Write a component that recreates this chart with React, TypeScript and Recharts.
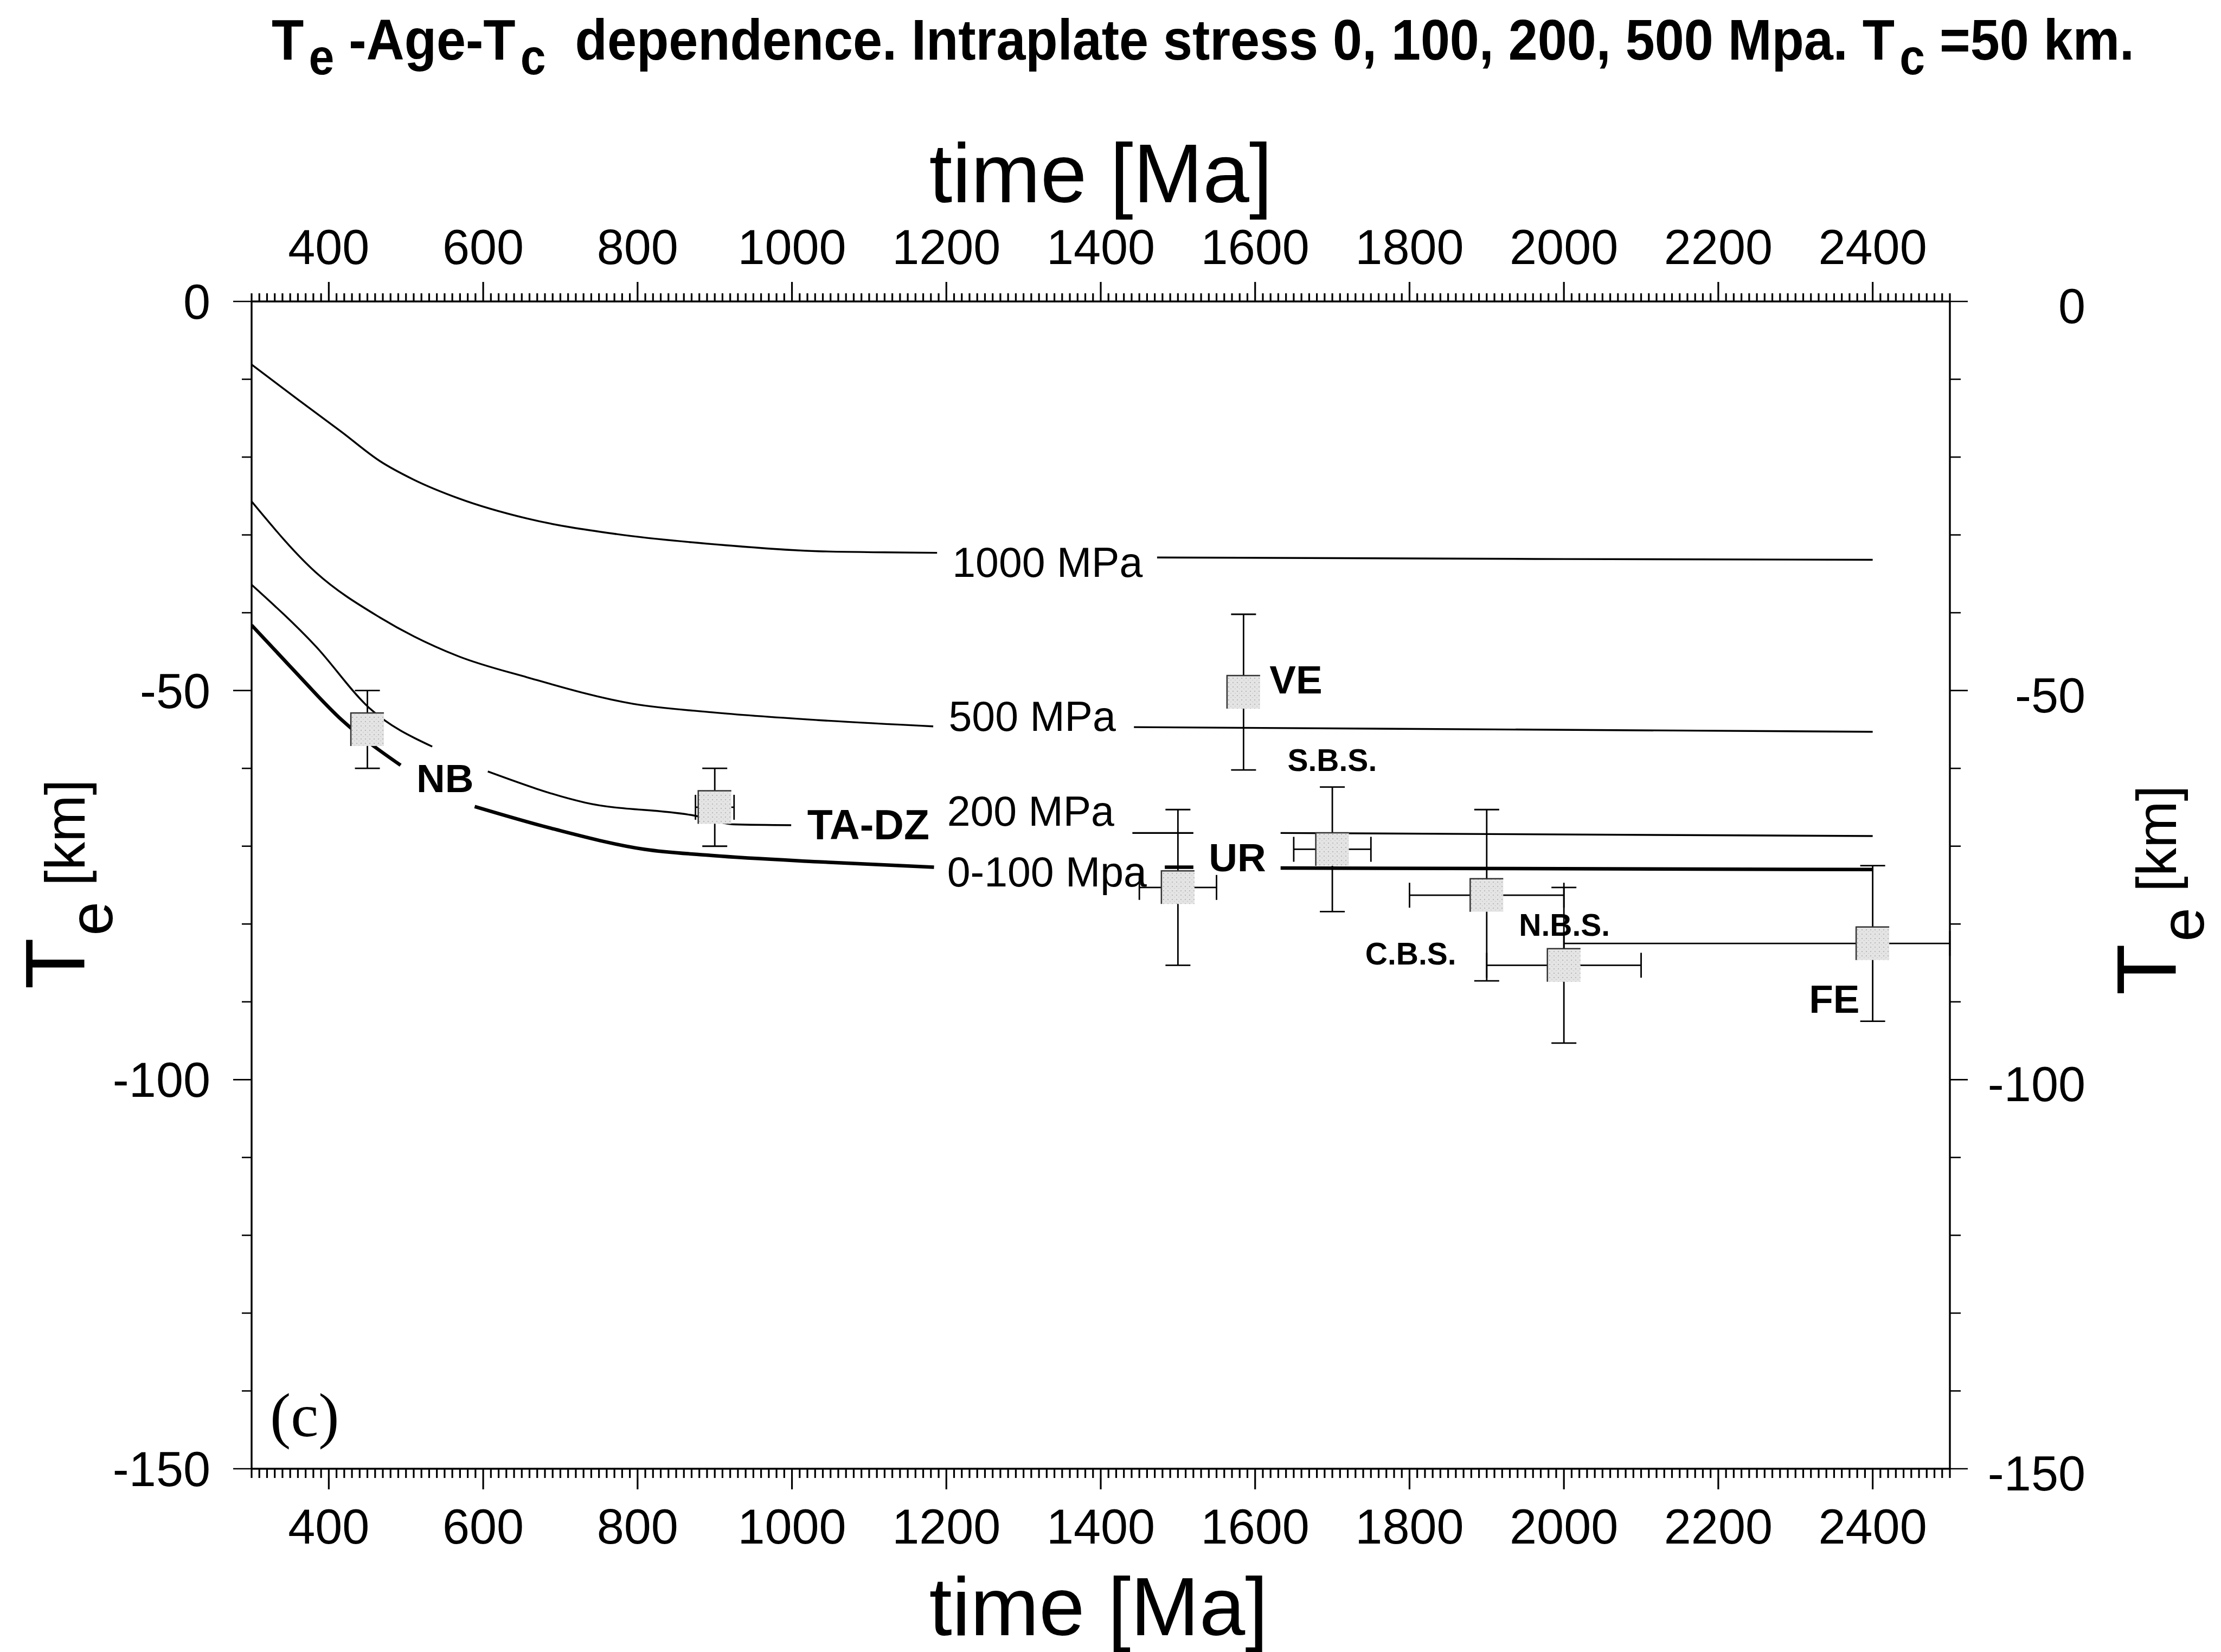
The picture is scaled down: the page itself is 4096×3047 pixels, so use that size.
import React from 'react';
import { ComposedChart, Line, Scatter, ErrorBar, XAxis, YAxis } from 'recharts';

const W = 4096;
const H = 3047;
const SANS = '"Liberation Sans", Arial, Helvetica, sans-serif';
const SERIF = '"Liberation Serif", "Times New Roman", serif';

// model curves, [age Ma, Te km]; null where the curve label breaks the line
const CURVE_1000: [number, number | null][] = [
  [300, -8.1], [360, -12.6], [417, -16.8], [466, -20.5], [510, -22.9], [568, -25.3], [657, -27.9],
  [773, -29.9], [911, -31.3], [1034, -32.1], [1188, -32.3], [1300, null],
  [1473, -32.9], [2000, -33.1], [2400, -33.2],
];
const CURVE_500: [number, number | null][] = [
  [300, -25.7], [383, -34.8], [466, -40.6], [568, -45.6], [657, -48.3], [794, -51.7],
  [897, -52.8], [1034, -53.8], [1183, -54.6], [1300, null], [1443, -54.7], [2400, -55.3],
];
const CURVE_200: [number, number | null][] = [
  [300, -36.4], [383, -44.3], [452, -52.2], [534, -57.2], [570, null], [606, -60.4],
  [732, -64.4], [875, -66.1], [925, -67.2], [999, -67.3], [1200, null], [1441, -68.3],
  [1520, -68.3], [1580, null], [1633, -68.3], [2400, -68.7],
];
const CURVE_0_100: [number, number | null][] = [
  [300, -41.6], [350, -46.9], [417, -53.8], [493, -59.6], [540, null], [589, -64.9],
  [692, -67.8], [809, -70.4], [897, -71.2], [1034, -72.0], [1184, -72.7], [1300, null],
  [1483, -72.7], [1520, -72.7], [1580, null], [1633, -72.8], [2400, -73.0],
];

// observed Te with error bars
const SITE_AGE = [450, 900, 1500, 1585, 1700, 1900, 2000, 2400];
const SITE_TE = [-55, -65, -75.3, -50.2, -70.4, -76.3, -85.3, -82.5];
const SITE_TE_ERR = [5, 5, 10, 10, 8, 11, 10, 10];
const SITE_AGE_ERR: (number | [number, number])[] = [0, 25, 50, 0, 50, 100, 100, [400, 100]];

// annotation anchors (left, baseline) in data units
const SITE_NAMES = ['NB', 'TA-DZ', 'UR', 'VE', 'S.B.S.', 'C.B.S.', 'N.B.S.', 'FE'];
const SITE_NAME_AGE = [513.5, 1019.8, 1540, 1618.6, 1642, 1742.6, 1941.8, 2317.5];
const SITE_NAME_TE = [-63.05, -69.1, -73.2, -50.4, -60.3, -85.2, -81.5, -91.4];
const CURVE_NAMES = ['1000 MPa', '500 MPa', '200 MPa', '0-100 Mpa'];
const CURVE_NAME_AGE = [1207.7, 1203, 1201, 1201];
const CURVE_NAME_TE = [-35.4, -55.2, -67.4, -75.2];

const X_DOMAIN: [number, number] = [300, 2500];
const Y_DOMAIN: [number, number] = [-150, 0];
const X_TICKS = Array.from({ length: 221 }, (_, i) => 300 + i * 10);
const X_LABELED = [400, 600, 800, 1000, 1200, 1400, 1600, 1800, 2000, 2200, 2400];
const Y_TICKS = Array.from({ length: 16 }, (_, i) => -150 + i * 10);
const Y_LABELED = [0, -50, -100, -150];

const toPts = (c: [number, number | null][]) => c.map(([x, y]) => ({ x, y }));

const sites = SITE_AGE.map((x, i) => ({
  x,
  y: SITE_TE[i],
  ey: SITE_TE_ERR[i],
  ex: SITE_AGE_ERR[i],
}));
const siteNames = SITE_NAMES.map((name, i) => ({ x: SITE_NAME_AGE[i], y: SITE_NAME_TE[i], name }));
const curveNames = CURVE_NAMES.map((name, i) => ({ x: CURVE_NAME_AGE[i], y: CURVE_NAME_TE[i], name }));
// the top/right frame axes carry no series of their own; tie them to the domain corners
const frameCorners = [
  { x: X_DOMAIN[0], y: Y_DOMAIN[0] },
  { x: X_DOMAIN[1], y: Y_DOMAIN[1] },
];

const TICK_W = 2.6;
const XTICK_W = 3.2;

function BottomTick({ x, y, payload }: any) {
  const v = payload.value;
  const major = X_LABELED.includes(v);
  return (
    <g>
      <line x1={x} x2={x} y1={y} y2={y + (major ? 38 : 17)} stroke="#000" strokeWidth={XTICK_W} />
      {major && (
        <text x={x} y={y + 138} textAnchor="middle" fontSize={90} fontFamily={SANS} fill="#000">
          {v}
        </text>
      )}
    </g>
  );
}

function TopTick({ x, y, payload }: any) {
  const v = payload.value;
  const major = X_LABELED.includes(v);
  return (
    <g>
      <line x1={x} x2={x} y1={y} y2={y - (major ? 36 : 15)} stroke="#000" strokeWidth={XTICK_W} />
      {major && (
        <text x={x} y={y - 69} textAnchor="middle" fontSize={90} fontFamily={SANS} fill="#000">
          {v}
        </text>
      )}
    </g>
  );
}

function LeftTick({ x, y, payload }: any) {
  const v = payload.value;
  const major = Y_LABELED.includes(v);
  return (
    <g>
      <line x1={x} x2={x - (major ? 34 : 18)} y1={y} y2={y} stroke="#000" strokeWidth={TICK_W} />
      {major && (
        <text x={x - 76} y={y + 32} textAnchor="end" fontSize={90} fontFamily={SANS} fill="#000">
          {v}
        </text>
      )}
    </g>
  );
}

function RightTick({ x, y, payload }: any) {
  const v = payload.value;
  const major = Y_LABELED.includes(v);
  return (
    <g>
      <line x1={x} x2={x + (major ? 33 : 20)} y1={y} y2={y} stroke="#000" strokeWidth={TICK_W} />
      {major && (
        <text x={x + 250} y={y + 40} textAnchor="end" fontSize={90} fontFamily={SANS} fill="#000">
          {v}
        </text>
      )}
    </g>
  );
}

const BOX = 61;
function SiteBox({ cx, cy }: any) {
  const h = BOX / 2;
  return (
    <g>
      <rect x={cx - h} y={cy - h} width={BOX} height={BOX} fill="url(#stipple)" />
      <path d={`M${cx - h},${cy + h}V${cy - h}H${cx + h}`} fill="none" stroke="#333" strokeWidth={2.5} />
    </g>
  );
}

function SiteName({ cx, cy, payload }: any) {
  const small = payload.name.includes('.');
  const size = small ? 57 : payload.name === 'TA-DZ' ? 77 : 73;
  return (
    <text x={cx} y={cy} fontSize={size} fontWeight="bold" fontFamily={SANS} fill="#000">
      {payload.name}
    </text>
  );
}

function CurveName({ cx, cy, payload }: any) {
  return (
    <text x={cx} y={cy} fontSize={77} fontFamily={SANS} fill="#000">
      {payload.name}
    </text>
  );
}

const axisLine = { stroke: '#000', strokeWidth: 3.4 };
const SUB = 27;

export default function App() {
  return (
    <div style={{ position: 'absolute', left: 0, top: 0, width: W, height: H, background: '#fff' }}>
      <ComposedChart width={W} height={H} margin={{ top: 256, right: 100, bottom: 38, left: 164 }}>
        <XAxis
          xAxisId="b"
          dataKey="x"
          type="number"
          orientation="bottom"
          domain={X_DOMAIN}
          allowDataOverflow
          ticks={X_TICKS}
          interval={0}
          height={300}
          tickSize={0}
          tickMargin={0}
          tickLine={false}
          axisLine={axisLine}
          tick={BottomTick}
        />
        <XAxis
          xAxisId="t"
          dataKey="x"
          type="number"
          orientation="top"
          domain={X_DOMAIN}
          allowDataOverflow
          ticks={X_TICKS}
          interval={0}
          height={300}
          tickSize={0}
          tickMargin={0}
          tickLine={false}
          axisLine={axisLine}
          tick={TopTick}
        />
        <YAxis
          yAxisId="l"
          dataKey="y"
          type="number"
          orientation="left"
          domain={Y_DOMAIN}
          allowDataOverflow
          ticks={Y_TICKS}
          interval={0}
          width={300}
          tickSize={0}
          tickMargin={0}
          tickLine={false}
          axisLine={axisLine}
          tick={LeftTick}
        />
        <YAxis
          yAxisId="r"
          dataKey="y"
          type="number"
          orientation="right"
          domain={Y_DOMAIN}
          allowDataOverflow
          ticks={Y_TICKS}
          interval={0}
          width={400}
          tickSize={0}
          tickMargin={0}
          tickLine={false}
          axisLine={axisLine}
          tick={RightTick}
        />

        <Line xAxisId="t" yAxisId="r" data={frameCorners} dataKey="y" stroke="none" dot={false} activeDot={false} isAnimationActive={false} />

        <Line xAxisId="b" yAxisId="l" data={toPts(CURVE_1000)} dataKey="y" type="monotone" stroke="#000" strokeWidth={3.4} dot={false} activeDot={false} isAnimationActive={false} />
        <Line xAxisId="b" yAxisId="l" data={toPts(CURVE_500)} dataKey="y" type="monotone" stroke="#000" strokeWidth={3.4} dot={false} activeDot={false} isAnimationActive={false} />
        <Line xAxisId="b" yAxisId="l" data={toPts(CURVE_200)} dataKey="y" type="monotone" stroke="#000" strokeWidth={3.4} dot={false} activeDot={false} isAnimationActive={false} />
        <Line xAxisId="b" yAxisId="l" data={toPts(CURVE_0_100)} dataKey="y" type="monotone" stroke="#000" strokeWidth={6.5} dot={false} activeDot={false} isAnimationActive={false} />

        <Scatter xAxisId="b" yAxisId="l" data={sites} shape={SiteBox} isAnimationActive={false}>
          <ErrorBar dataKey="ey" direction="y" width={23} stroke="#000" strokeWidth={2.8} isAnimationActive={false} />
          <ErrorBar dataKey="ex" direction="x" width={23} stroke="#000" strokeWidth={2.8} isAnimationActive={false} />
        </Scatter>
        <Scatter xAxisId="b" yAxisId="l" data={siteNames} shape={SiteName} isAnimationActive={false} />
        <Scatter xAxisId="b" yAxisId="l" data={curveNames} shape={CurveName} isAnimationActive={false} />
      </ComposedChart>

      <svg width={W} height={H} style={{ position: 'absolute', left: 0, top: 0, pointerEvents: 'none' }}>
        <defs>
          <pattern id="stipple" width={8} height={8} patternUnits="userSpaceOnUse">
            <rect width={8} height={8} fill="#e4e4e4" />
            <rect x={1} y={2} width={2} height={2} fill="#b8b8b8" />
            <rect x={5} y={6} width={2} height={1} fill="#c4c4c4" />
          </pattern>
        </defs>
        <text
          x={501}
          y={110}
          fontFamily={SANS}
          fontWeight="bold"
          fontSize={106}
          textLength={3435}
          lengthAdjust="spacingAndGlyphs"
          style={{ whiteSpace: 'pre' }}
        >
          T<tspan dx={10} dy={SUB} fontSize={92}>e</tspan>
          <tspan dy={-SUB}> -Age-T</tspan>
          <tspan dx={10} dy={SUB} fontSize={92}>c</tspan>
          <tspan dy={-SUB}>{'  dependence. Intraplate stress 0, 100, 200, 500 Mpa. T'}</tspan>
          <tspan dx={10} dy={SUB} fontSize={92}>c</tspan>
          <tspan dy={-SUB}>{' =50 km.'}</tspan>
        </text>
        <text x={2030} y={373} textAnchor="middle" fontFamily={SANS} fontSize={154}>time [Ma]</text>
        <text x={2026} y={3016} textAnchor="middle" fontFamily={SANS} fontSize={152}>time [Ma]</text>
        <text transform="translate(156,1631) rotate(-90)" textAnchor="middle" fontFamily={SANS} style={{ whiteSpace: 'pre' }}>
          <tspan fontSize={155}>T</tspan>
          <tspan fontSize={113} dx={4} dy={51}>e</tspan>
          <tspan fontSize={104} dy={-51}>{' [km]'}</tspan>
        </text>
        <text transform="translate(4013,1642) rotate(-90)" textAnchor="middle" fontFamily={SANS} style={{ whiteSpace: 'pre' }}>
          <tspan fontSize={155}>T</tspan>
          <tspan fontSize={113} dx={4} dy={51}>e</tspan>
          <tspan fontSize={104} dy={-51}>{' [km]'}</tspan>
        </text>
        <text x={498} y={2649} fontFamily={SERIF} fontSize={115}>(c)</text>
      </svg>
    </div>
  );
}
